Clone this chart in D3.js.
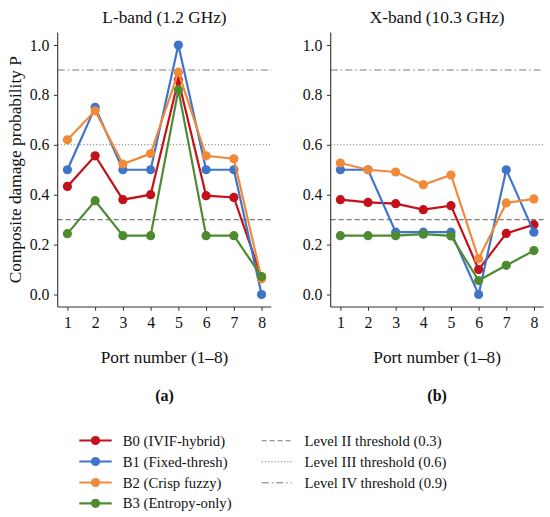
<!DOCTYPE html>
<head>
  <meta charset="UTF-8" />
  <script src="https://d3js.org/d3.v7.min.js"></script>
  <style>
    body { margin: 0; background: #fff; }
    text { font-family: "Liberation Serif", "Times New Roman", serif; fill: #111; }
  </style>
</head>
<body>
  <script>
    // data
    var ports = [1, 2, 3, 4, 5, 6, 7, 8];
    var seriesNames = ["B0 (IVIF-hybrid)", "B1 (Fixed-thresh)", "B2 (Crisp fuzzy)", "B3 (Entropy-only)"];
    var seriesColors = ["#c4101a", "#3e75c8", "#f08a3a", "#4e8a30"];

    var lBandB0 = [0.433, 0.556, 0.38, 0.4, 0.86, 0.396, 0.389, 0.068];
    var lBandB1 = [0.5, 0.75, 0.5, 0.5, 1.0, 0.5, 0.5, 0.0];
    var lBandB2 = [0.62, 0.736, 0.523, 0.565, 0.891, 0.556, 0.544, 0.063];
    var lBandB3 = [0.244, 0.376, 0.236, 0.236, 0.82, 0.236, 0.236, 0.072];

    var xBandB0 = [0.38, 0.369, 0.364, 0.34, 0.356, 0.1, 0.245, 0.28];
    var xBandB1 = [0.5, 0.5, 0.25, 0.25, 0.25, 0.0, 0.5, 0.25];
    var xBandB2 = [0.527, 0.5, 0.491, 0.44, 0.479, 0.143, 0.367, 0.383];
    var xBandB3 = [0.236, 0.236, 0.236, 0.242, 0.235, 0.056, 0.117, 0.176];

    var thresholds = [0.3, 0.6, 0.9];
    var thresholdNames = ["Level II threshold (0.3)", "Level III threshold (0.6)", "Level IV threshold (0.9)"];
    var thresholdDash = ["5,3", "1.2,2", "7,3,1.5,3"];
    var yTicks = [0.0, 0.2, 0.4, 0.6, 0.8, 1.0];

    var width = 550, height = 517;
    var svg = d3.select("body").append("svg")
      .attr("width", width).attr("height", height);

    var panels = [
      { title: "L-band (1.2 GHz)", tag: "(a)", left: 57.7, right: 271.3,
        data: [lBandB0, lBandB1, lBandB2, lBandB3] },
      { title: "X-band (10.3 GHz)", tag: "(b)", left: 330.7, right: 543.6,
        data: [xBandB0, xBandB1, xBandB2, xBandB3] }
    ];
    var plotTop = 32.5, plotBottom = 307;

    var y = d3.scaleLinear().domain([-0.05, 1.05]).range([plotBottom, plotTop]);

    panels.forEach(function (p) {
      var x = d3.scaleLinear().domain([0.65, 8.35]).range([p.left, p.right]);
      var g = svg.append("g");

      // threshold lines
      g.selectAll("line.thr").data(thresholds).enter().append("line")
        .attr("x1", p.left).attr("x2", p.right)
        .attr("y1", function (d) { return y(d); })
        .attr("y2", function (d) { return y(d); })
        .attr("stroke", "#7a7a7a").attr("stroke-width", 1.1)
        .attr("stroke-dasharray", function (d, i) { return thresholdDash[i]; });

      // series
      var line = d3.line()
        .x(function (d, i) { return x(ports[i]); })
        .y(function (d) { return y(d); });
      p.data.forEach(function (vals, s) {
        g.append("path").datum(vals)
          .attr("d", line).attr("fill", "none")
          .attr("stroke", seriesColors[s]).attr("stroke-width", 2.2);
        g.selectAll("circle.s" + s).data(vals).enter().append("circle")
          .attr("class", "s" + s)
          .attr("cx", function (d, i) { return x(ports[i]); })
          .attr("cy", function (d) { return y(d); })
          .attr("r", 4.6).attr("fill", seriesColors[s]);
      });

      // axes
      var xAxis = d3.axisBottom(x).tickValues(ports).tickSize(3.8).tickPadding(6);
      var yAxis = d3.axisLeft(y).tickValues(yTicks).tickFormat(d3.format(".1f"))
        .tickSize(3.8).tickPadding(4.5);
      var gx = g.append("g").attr("transform", "translate(0," + plotBottom + ")").call(xAxis);
      var gy = g.append("g").attr("transform", "translate(" + p.left + ",0)").call(yAxis);
      [gx, gy].forEach(function (a) {
        a.select(".domain").attr("stroke", "#333").attr("stroke-width", 1.1);
        a.selectAll(".tick line").attr("stroke", "#333").attr("stroke-width", 1);
        a.selectAll(".tick text").attr("font-size", 15.8).attr("fill", "#111")
          .style("font-family", "'Liberation Serif', serif");
      });
      gx.select(".domain").attr("d", "M" + p.left + ",0H" + p.right);
      gy.select(".domain").attr("d", "M0," + plotTop + "V" + plotBottom);

      var cx = (p.left + p.right) / 2;
      g.append("text").attr("x", cx).attr("y", 17).attr("dy", "0.35em")
        .attr("text-anchor", "middle").attr("font-size", 17.3).text(p.title);
      g.append("text").attr("x", cx).attr("y", 357).attr("dy", "0.35em")
        .attr("text-anchor", "middle").attr("font-size", 17.3).text("Port number (1–8)");
      g.append("text").attr("x", cx).attr("y", 395).attr("dy", "0.35em")
        .attr("text-anchor", "middle").attr("font-size", 16).attr("font-weight", "bold")
        .text(p.tag);
    });

    svg.append("text")
      .attr("transform", "translate(15," + (plotTop + plotBottom) / 2 + ") rotate(-90)")
      .attr("dy", "0.35em").attr("text-anchor", "middle").attr("font-size", 17.3)
      .text("Composite damage probability P");

    // legend
    var leg1 = svg.append("g");
    var rowY = [440.5, 461.5, 482.5, 503.3];
    seriesNames.forEach(function (name, i) {
      leg1.append("line").attr("x1", 79.3).attr("x2", 111.7)
        .attr("y1", rowY[i]).attr("y2", rowY[i])
        .attr("stroke", seriesColors[i]).attr("stroke-width", 2.2);
      leg1.append("circle").attr("cx", 95.5).attr("cy", rowY[i]).attr("r", 4.6)
        .attr("fill", seriesColors[i]);
      leg1.append("text").attr("x", 122.7).attr("y", rowY[i]).attr("dy", "0.35em")
        .attr("font-size", 14.7).text(name);
    });
    var rowY2 = [440.7, 461.8, 482.7];
    thresholdNames.forEach(function (name, i) {
      leg1.append("line").attr("x1", 261.7).attr("x2", 291.7)
        .attr("y1", rowY2[i]).attr("y2", rowY2[i])
        .attr("stroke", "#7a7a7a").attr("stroke-width", 1.1)
        .attr("stroke-dasharray", thresholdDash[i]);
      leg1.append("text").attr("x", 304.5).attr("y", rowY2[i]).attr("dy", "0.35em")
        .attr("font-size", 14.7).text(name);
    });
  </script>
</body>
